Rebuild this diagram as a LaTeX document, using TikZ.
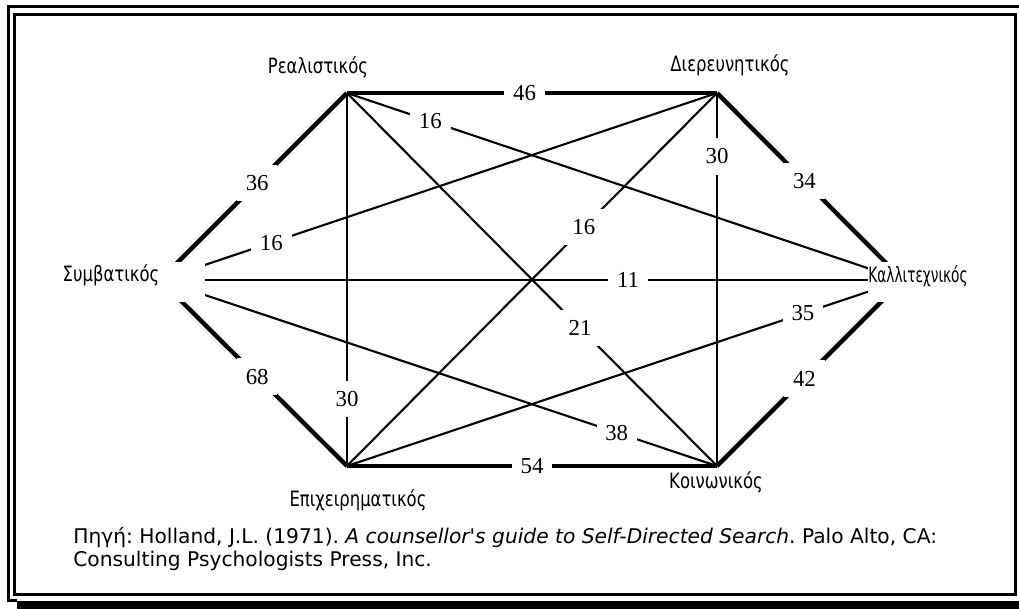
\documentclass[tikz,border=0pt]{standalone}
\usepackage{fontspec}
\setmainfont{DejaVu Sans}[Ligatures=TeXOff]
\newfontfamily\numfont{Liberation Serif}
\newfontfamily\lblfont[FakeStretch=0.78]{DejaVu Sans}
\newfontfamily\lblnarrow[FakeStretch=0.65]{DejaVu Sans}
\frenchspacing

\begin{document}
\begin{tikzpicture}[x=0.02cm, y=-0.02cm,
  frame/.style={line width=1.7pt},
  heavy/.style={line width=2.5pt},
  light/.style={line width=1.2pt},
  num/.style={fill=white, inner xsep=5pt, inner ysep=6pt, font=\numfont\fontsize{13}{15}\selectfont},
  type/.style={font=\lblfont\fontsize{12}{14}\selectfont, inner sep=0pt},
  mask/.style={fill=white, text height=0.25cm, text depth=0.24cm, minimum height=0.8cm}]
\useasboundingbox (0,0) rectangle (1019,609);
% frame with shadow
\draw[frame] (1019,6.5) -- (8.5,6.5) -- (8.5,600.5) -- (17,600.5);
\draw[frame] (14.5,14.5) rectangle (1015.3,594.5);
\fill (17,601) rectangle (1019,609);

% corners
\coordinate (C) at (160,280);
\coordinate (R) at (347,93);
\coordinate (I) at (717,93);
\coordinate (A) at (903,280);
\coordinate (K) at (717,466);
\coordinate (E) at (347,466);

% inner lines
\draw[light] (R) -- node[num, pos=.15] {16} (A);
\draw[light] (C) -- node[num, pos=.2] {16} (I);
\draw[light] (C) -- node[num, pos=.63] {11} (A);
\draw[light] (C) -- node[num, pos=.82] {38} (K);
\draw[light] (R) -- node[num, pos=.82] {30} (E);
\draw[light] (I) -- node[num, pos=.17] {30} (K);
\draw[light] (E) -- node[num, pos=.64] {16} (I);
\draw[light] (R) -- node[num, pos=.63] {21} (K);
\draw[light] (E) -- node[num, pos=.82] {35} (A);

% hexagon
\draw[heavy] (C) -- node[num, pos=.52] {36} (R);
\draw[heavy] (R) -- node[num, pos=.48] {46} (I);
\draw[heavy] (I) -- node[num, pos=.47] {34} (A);
\draw[heavy] (A) -- node[num, pos=.53] {42} (K);
\draw[heavy] (K) -- node[num, pos=.50] {54} (E);
\draw[heavy] (E) -- node[num, pos=.48] {68} (C);

% types
\node[type, anchor=base] (Rname) at (318,73) {Ρεαλιστικός};
\node[type, anchor=base] (Iname) at (730,71) {Διερευνητικός};
\node[type, anchor=base] (Ename) at (358,506) {Επιχειρηματικός};
\node[type, anchor=base] (Kname) at (716,488) {Κοινωνικός};
\node[type, mask, minimum width=3.76cm] (Cname) at (111,281.5) {Συμβατικός};
\node[type, mask, minimum width=2cm, font=\lblnarrow\fontsize{12}{14}\selectfont] (Aname) at (918,282) {Καλλιτεχνικός};

% source
\node[anchor=base west, inner sep=0pt, font=\fontsize{11.5}{13}\selectfont] (src1) at (73,543)
  {Πηγή: Holland, J.L. (1971). \textit{A counsellor's guide to Self-Directed Search}. Palo Alto, CA:};
\node[anchor=base west, inner sep=0pt, font=\fontsize{11.5}{13}\selectfont] (src2) at (73,566)
  {Consulting Psychologists Press, Inc.};
\end{tikzpicture}
\end{document}
